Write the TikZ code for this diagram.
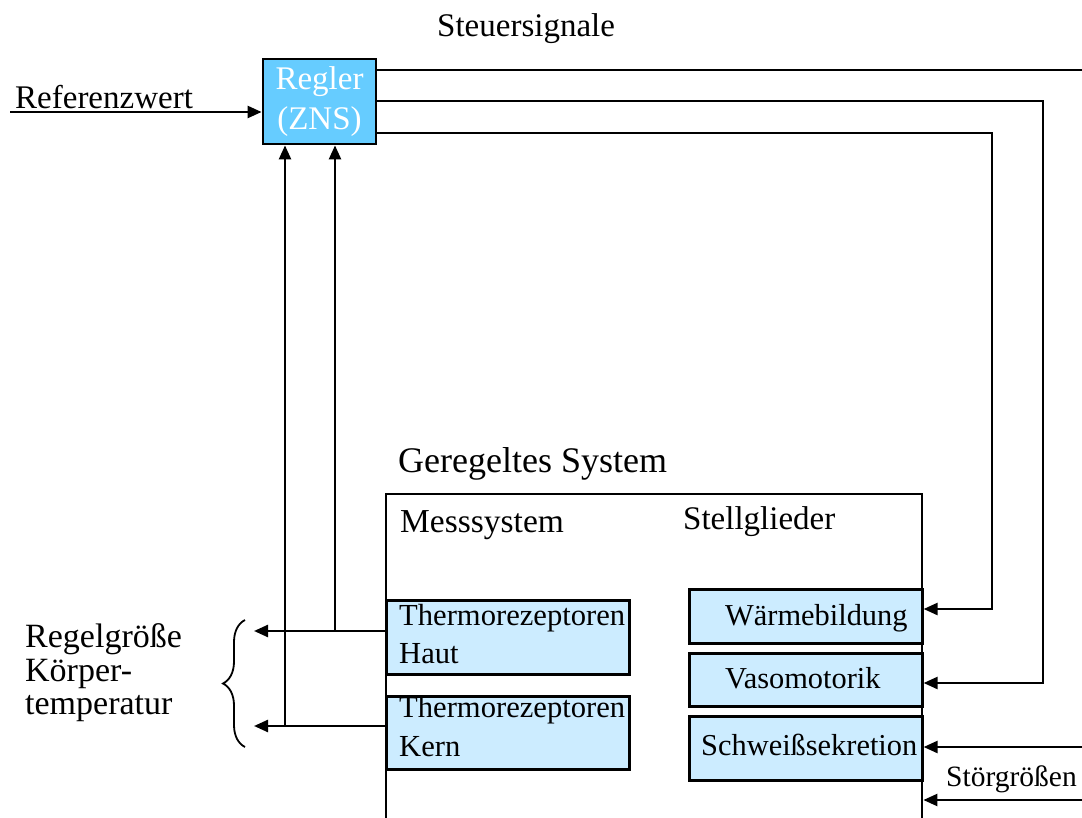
\documentclass[tikz,border=0pt]{standalone}
\usepackage{fontspec}
\setmainfont{Liberation Serif}
\usetikzlibrary{arrows.meta,decorations.pathreplacing}

\definecolor{reglerblue}{HTML}{66CCFF}
\definecolor{unitblue}{HTML}{CCECFF}

\tikzset{
  txt/.style={anchor=base west, inner sep=0pt, font=\rmfamily\fontsize{#1}{#1}\selectfont},
  unit/.style={draw, fill=unitblue, line width=2.6pt, anchor=north west, inner sep=0pt},
  conn/.style={line width=2.4pt},
  arr/.style={conn, -{Triangle[length=14pt,width=12pt]}},
}

\begin{document}
\begin{tikzpicture}[x=1pt,y=-1pt]
\useasboundingbox (0,0) rectangle (1082,818);
\clip (0,0) rectangle (1082,818);

% controller
\node[draw, fill=reglerblue, line width=2.8pt, minimum width=113pt, minimum height=85pt,
      inner sep=0pt, text=white, align=center,
      font=\rmfamily\fontsize{33}{40}\selectfont] (regler) at (319.5,101.5) {Regler\\(ZNS)};

% titles
\node[txt=33] (steuer) at (437,37) {Steuersignale};
\node[txt=33] (referenz) at (15,109) {Referenzwert};
\node[txt=36] (geregelt) at (398,472) {Geregeltes System};

% controlled system (open at the bottom)
\node[draw, line width=2.4pt, anchor=north west, minimum width=536pt, minimum height=400pt,
      inner sep=0pt] (system) at (385,493) {};
\node[txt=33.5] (mess) at (400,532) {Messsystem};
\node[txt=33] (stell) at (683,529) {Stellglieder};

% sensors
\node[unit, minimum width=243pt, minimum height=74pt] (haut) at (385,599) {};
\node[txt=30.6] (haut1) at (399,625) {Thermorezeptoren};
\node[txt=30.6] (haut2) at (399,663) {Haut};
\node[unit, minimum width=243pt, minimum height=73pt] (kern) at (385,695) {};
\node[txt=30.6] (kern1) at (399,717) {Thermorezeptoren};
\node[txt=30.6] (kern2) at (399,756) {Kern};

% actuators
\node[unit, minimum width=233pt, minimum height=54pt] (waerme) at (688,588) {};
\node[txt=30.4] (waermet) at (725,625) {Wärmebildung};
\node[unit, minimum width=233pt, minimum height=53pt] (vaso) at (688,652) {};
\node[txt=30.4] (vasot) at (725,688) {Vasomotorik};
\node[unit, minimum width=233pt, minimum height=64pt] (schweiss) at (688,715) {};
\node[txt=30.4] (schweisst) at (701,755) {Schweißsekretion};

% controlled variable
\node[txt=34] (rg1) at (25,647) {Regelgröße};
\node[txt=34] (rg2) at (25,681) {Körper-};
\node[txt=34] (rg3) at (25,714) {temperatur};
\draw[decorate, decoration={brace, amplitude=22pt}, line width=1.8pt] (245,747) -- (245,620);

% disturbances
\node[txt=29.5] (stoer) at (946,786) {Störgrößen};

% reference input
\coordinate (refin) at (10,112);
\draw[arr] (refin) -- (refin -| regler.west);

% control signals
\coordinate (s1) at (1082,70);
\draw[conn] (regler.east |- s1) -- (s1);
\coordinate (v1) at (1043,683);
\draw[arr] ([yshift=0.5pt]regler.east) -| (v1) -- (v1 -| vaso.east);
\coordinate (w1) at (992,609);
\draw[arr] ([yshift=-31.5pt]regler.east) -| (w1) -- (w1 -| waerme.east);

% feedback from sensors
\coordinate (hl) at (254,631);
\coordinate (hj) at (335,631);
\draw[arr] (hl -| haut.west) -- (hl);
\draw[arr] (hj) -- (hj |- regler.south);
\coordinate (kl) at (254,726);
\coordinate (kj) at (285,726);
\draw[arr] (kl -| kern.west) -- (kl);
\draw[arr] (kj) -- (kj |- regler.south);

% disturbance inputs
\coordinate (d1) at (1082,747);
\draw[arr] (d1) -- (d1 -| schweiss.east);
\coordinate (d2) at (1082,800);
\draw[arr] (d2) -- (d2 -| system.east);
\end{tikzpicture}
\end{document}
